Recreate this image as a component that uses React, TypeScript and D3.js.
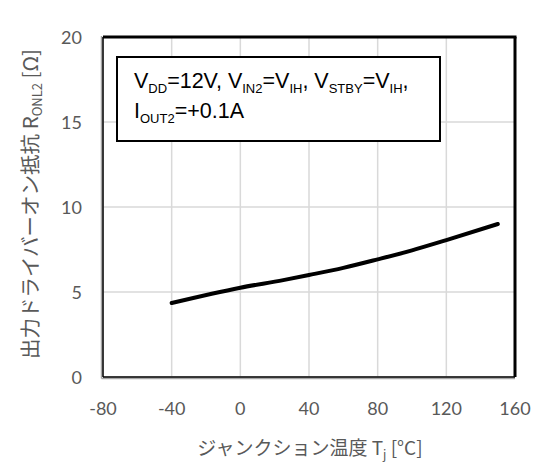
import React from "react";
import * as d3 from "d3";

const temps = [-40, 0, 25, 40, 60, 80, 100, 120, 150];
const ronValues = [4.35, 5.25, 5.7, 6.0, 6.42, 6.92, 7.45, 8.05, 9.0];
const xTicks = [-80, -40, 0, 40, 80, 120, 160];
const yTicks = [0, 5, 10, 15, 20];

const W = 541, H = 462;
const L = 103, R = 515, T = 37, B = 377;

export default function App() {
  const x = d3.scaleLinear().domain([-80, 160]).range([L, R]);
  const y = d3.scaleLinear().domain([0, 20]).range([B, T]);
  const line = d3.line<number>().x((_, i) => x(temps[i])).y((d) => y(d)).curve(d3.curveMonotoneX);
  const tickFont = "Lato, 'Open Sans', sans-serif";
  const gray = "#595959";
  const lf = "'Liberation Sans', Arial, sans-serif";
  return (
    <svg width={W} height={H} style={{ position: "absolute", left: 0, top: 0, background: "#fff" }}>
      <rect x={0} y={0} width={W} height={H} fill="#fff" />
      {xTicks.map((t) => (
        <line key={"gx" + t} x1={x(t)} x2={x(t)} y1={T} y2={B} stroke="#d9d9d9" strokeWidth={1.5} />
      ))}
      {yTicks.map((t) => (
        <line key={"gy" + t} x1={L} x2={R} y1={y(t)} y2={y(t)} stroke="#d9d9d9" strokeWidth={1.5} />
      ))}
      <path d={line(ronValues) || ""} fill="none" stroke="#000" strokeWidth={4} strokeLinecap="round" />
      <line x1={L - 1.5} x2={L - 1.5} y1={T - 1} y2={B + 1.5} stroke="#a6a6a6" strokeWidth={1.5} />
      <line x1={L - 1.5} x2={R} y1={B + 1.5} y2={B + 1.5} stroke="#a6a6a6" strokeWidth={1.5} />
      <line x1={L} x2={R + 1.5} y1={T} y2={T} stroke="#000" strokeWidth={3} />
      <line x1={R} x2={R} y1={T} y2={B} stroke="#000" strokeWidth={3} />
      <line x1={L} x2={L} y1={T} y2={B} stroke="#000" strokeWidth={1.5} />
      <line x1={L} x2={R} y1={B} y2={B} stroke="#000" strokeWidth={1.5} />
      {xTicks.map((t) => (
        <text key={"tx" + t} x={x(t)} y={415} textAnchor="middle" fontFamily={tickFont} fontSize={18} fill={gray}>
          {t}
        </text>
      ))}
      {yTicks.map((t) => (
        <text key={"ty" + t} x={82} y={y(t) + 6.5} textAnchor="end" fontFamily={tickFont} fontSize={18} fill={gray}>
          {t}
        </text>
      ))}
      <text x={310} y={455} textAnchor="middle" fontFamily="'Noto Sans CJK JP', sans-serif" fontSize={19} fill={gray}>
        ジャンクション温度 T
        <tspan fontSize={12} dy={4}>j</tspan>
        <tspan dy={-4}> [°C]</tspan>
      </text>
      <text
        transform={`translate(38,204) rotate(-90)`}
        textAnchor="middle"
        fontFamily="'Noto Sans CJK JP', sans-serif"
        fontSize={20.5}
        fill={gray}
      >
        出力ドライバーオン抵抗 R
        <tspan fontSize={13} dy={4}>ONL2</tspan>
        <tspan dy={-4}> [Ω]</tspan>
      </text>
      <rect x={117} y={57} width={323} height={84} fill="#fff" stroke="#000" strokeWidth={2} />
      <text x={134} y={88} fontFamily={lf} fontSize={21.5} fill="#000">
        V<tspan fontSize={13} dy={5}>DD</tspan>
        <tspan dy={-5}>=12V, V</tspan>
        <tspan fontSize={13} dy={5}>IN2</tspan>
        <tspan dy={-5}>=V</tspan>
        <tspan fontSize={13} dy={5}>IH</tspan>
        <tspan dy={-5}>, V</tspan>
        <tspan fontSize={13} dy={5}>STBY</tspan>
        <tspan dy={-5}>=V</tspan>
        <tspan fontSize={13} dy={5}>IH</tspan>
        <tspan dy={-5}>,</tspan>
      </text>
      <text x={134} y={118} fontFamily={lf} fontSize={21.5} fill="#000">
        I<tspan fontSize={13} dy={5}>OUT2</tspan>
        <tspan dy={-5}>=+0.1A</tspan>
      </text>
    </svg>
  );
}
